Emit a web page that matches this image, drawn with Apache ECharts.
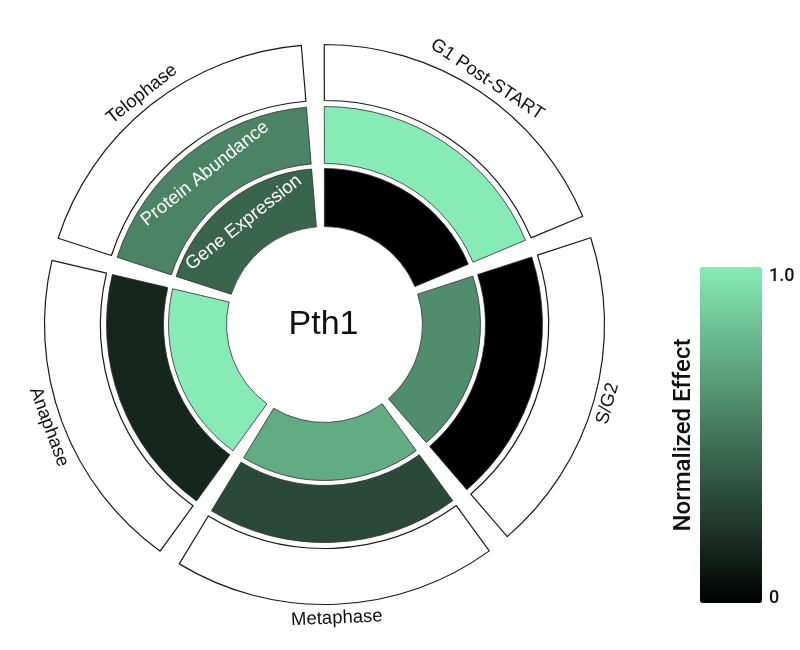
<!DOCTYPE html>
<html>
<head>
<meta charset="UTF-8">
<title>Pth1</title>
<script src="https://cdn.jsdelivr.net/npm/echarts@6/dist/echarts.min.js"></script>
<style>
  html, body { margin: 0; padding: 0; background: #fff; }
  #main { width: 800px; height: 650px; }
</style>
</head>
<body>
<div id="main"></div>
<script>
// phases around the circle, clockwise from the top
var phases = ['G1 Post-START', 'S/G2', 'Metaphase', 'Anaphase', 'Telophase'];
var phaseSpan = [1, 1, 1, 1, 1];
// normalized effect, 0..1
var proteinAbundance = [1.0, 0.0, 0.31, 0.16, 0.56];
var geneExpression = [0.0, 0.6, 0.73, 1.0, 0.43];
var ringNames = ['Protein Abundance', 'Gene Expression'];
var geneName = 'Pth1';
var scaleTicks = ['0', '1.0'];

var chart = echarts.init(document.getElementById('main'));
var cx = 324.5, cy = 324.5;
var font = 'Liberation Sans, Arial, sans-serif';

// one ring of the circle; ringLabel is written in the Telophase slice only
function ringData(values, ringLabel) {
	return phases.map(function (p, i) {
		var item = { name: p, value: [phaseSpan[i], values[i]] };
		if (p === 'Telophase') {
			item.label = { show: true, formatter: ringLabel };
		}
		return item;
	});
}

function ring(radius, data, extra) {
	var s = {
		type: 'pie',
		center: [cx, cy],
		radius: radius,
		startAngle: 92.4,
		clockwise: true,
		padAngle: 4.7,
		silent: true,
		avoidLabelOverlap: false,
		dimensions: ['span', 'effect'],
		encode: { itemName: -1, value: 0 },
		labelLine: { show: false },
		label: {
			show: false,
			position: 'inside',
			rotate: 'tangential',
			color: '#fff',
			fontSize: 18.5,
			fontFamily: font
		},
		itemStyle: { borderColor: '#2b2b2b', borderWidth: 0.8 },
		emphasis: { disabled: true },
		data: data
	};
	return Object.assign(s, extra || {});
}

var option = {
	animation: false,
	visualMap: {
		type: 'continuous',
		min: 0,
		max: 1,
		dimension: 1,
		seriesIndex: [0, 1],
		calculable: false,
		orient: 'vertical',
		left: 700,
		top: 267,
		itemWidth: 62,
		itemHeight: 336,
		padding: 0,
		text: null,
		inRange: { color: ['#000000', '#86ebb4'] }
	},
	graphic: [
		{
			type: 'text', x: cx - 1, y: cy,
			style: { text: geneName, fontSize: 34, fontFamily: font, fill: '#111', align: 'center', verticalAlign: 'middle' }
		},
		{
			type: 'text', x: 769, y: 276,
			style: { text: scaleTicks[1], fontSize: 18, fontWeight: 500, fontFamily: 'Roboto', fill: '#111', align: 'left', verticalAlign: 'middle' }
		},
		{
			type: 'text', x: 769, y: 598,
			style: { text: scaleTicks[0], fontSize: 18, fontWeight: 500, fontFamily: 'Roboto', fill: '#111', align: 'left', verticalAlign: 'middle' }
		},
		{
			type: 'text', x: 684, y: 435, rotation: Math.PI / 2,
			style: { text: 'Normalized Effect', fontSize: 24, fontWeight: 500, fontFamily: 'Roboto', fill: '#111', align: 'center', verticalAlign: 'middle' }
		}
	],
	series: [
		ring([161, 218], ringData(proteinAbundance, ringNames[0])),
		ring([98, 156], ringData(geneExpression, ringNames[1])),
		// outer white boxes
		ring([224, 280], phases.map(function (p, i) { return { name: p, value: [phaseSpan[i], 0] }; }), {
			itemStyle: { color: '#fff', borderColor: '#1a1a1a', borderWidth: 1.2 }
		}),
		// phase names just outside the boxes
		ring([282, 300], phases.map(function (p, i) { return { name: p, value: [phaseSpan[i], 0] }; }), {
			itemStyle: { color: 'rgba(0,0,0,0)', borderWidth: 0 },
			label: {
				show: true, position: 'inside', rotate: 'tangential', formatter: '{b}',
				color: '#111', fontSize: 18.5, fontFamily: font
			}
		})
	]
};

chart.setOption(option);
</script>
</body>
</html>
